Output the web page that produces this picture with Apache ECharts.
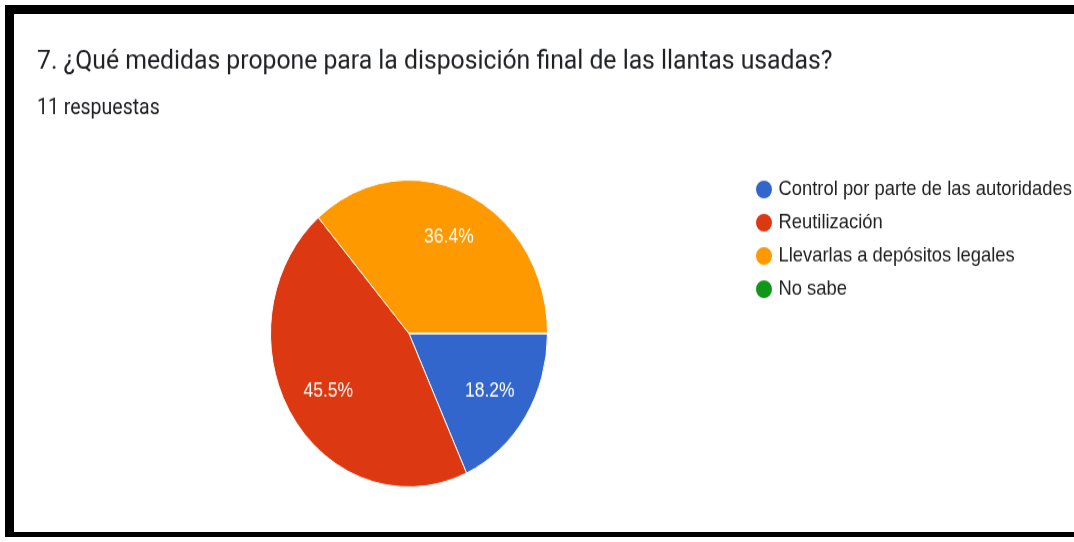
<!DOCTYPE html>
<html>
<head>
<meta charset="utf-8">
<script src="https://cdn.jsdelivr.net/npm/echarts@6/dist/echarts.min.js"></script>
<style>
  html, body { margin: 0; padding: 0; background: #fff; overflow: hidden; }
  #frame {
    position: absolute; left: 5px; top: 5px; width: 1069px; height: 532px;
    border-top: 9px solid #000; border-left: 9px solid #000; border-bottom: 5px solid #000;
    box-sizing: border-box; pointer-events: none; z-index: 2;
  }
  /* the source screenshot is stretched vertically, so the chart is too */
  #main {
    position: absolute; left: 0; top: 0; width: 1074px; height: 489px;
    transform: scale(1, 1.108); transform-origin: 0 0;
  }
</style>
</head>
<body>
<div id="main"></div>
<div id="frame"></div>
<script>
// respuestas por opción
const categories = ['Control por parte de las autoridades', 'Reutilización', 'Llevarlas a depósitos legales', 'No sabe'];
const counts = [2, 5, 4, 0];
const colors = ['#3366cc', '#dc3912', '#ff9900', '#109618'];
const titleText = '7. ¿Qué medidas propone para la disposición final de las llantas usadas?';
const subText = '11 respuestas';

const pieData = categories.map((name, i) => ({ name: name, value: counts[i], itemStyle: { color: colors[i] } }));
const labelData = categories.map((name, i) => ({ name: name, value: counts[i] }));

const chart = echarts.init(document.getElementById('main'));
chart.setOption({
  animation: false,
  title: {
    text: titleText,
    subtext: subText,
    left: 32,
    top: 38,
    itemGap: 20,
    textStyle: { fontFamily: 'Roboto', fontSize: 24.75, fontWeight: 'normal', color: '#202124' },
    subtextStyle: { fontFamily: 'Roboto', fontSize: 19.5, color: '#202124' }
  },
  legend: {
    orient: 'vertical',
    left: 749,
    top: 156,
    icon: 'circle',
    itemWidth: 19,
    itemHeight: 18,
    itemGap: 10,
    data: categories,
    textStyle: { fontFamily: 'Liberation Sans', fontSize: 18.4, color: '#222' }
  },
  series: [
    {
      type: 'pie',
      center: [409, 301],
      radius: [0, 138.5],
      startAngle: 0,
      clockwise: true,
      data: pieData,
      itemStyle: { borderColor: '#fff', borderWidth: 1 },
      label: { show: false },
      labelLine: { show: false },
      emphasis: { disabled: true }
    },
    {
      // transparent ring used only to place the percentage labels further out
      type: 'pie',
      center: [409, 301],
      radius: [0, 186],
      startAngle: 0,
      clockwise: true,
      silent: true,
      data: labelData,
      itemStyle: { color: 'rgba(0,0,0,0)', borderWidth: 0 },
      label: {
        show: true,
        position: 'inside',
        formatter: p => p.value > 0 ? p.percent.toFixed(1) + '%' : '',
        fontFamily: 'Liberation Sans',
        fontSize: 17.5,
        color: '#fff'
      },
      labelLine: { show: false },
      emphasis: { disabled: true }
    }
  ]
});
</script>
</body>
</html>
